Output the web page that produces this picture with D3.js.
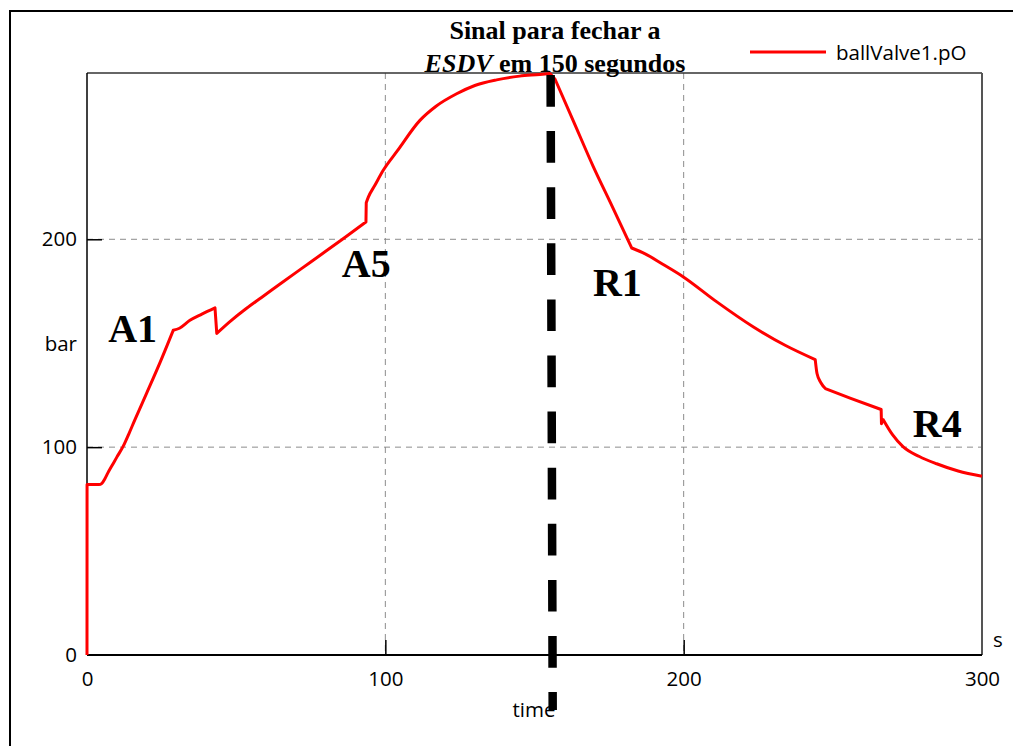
<!DOCTYPE html>
<html>
<head>
<meta charset="utf-8">
<script src="https://cdn.jsdelivr.net/npm/d3@7"></script>
<style>
  html, body { margin: 0; padding: 0; background: #fff; }
  svg { display: block; }
</style>
</head>
<body>
<svg id="chart" width="1013" height="746"></svg>
<script>
// ---- data ----
const seriesName = "ballValve1.pO";
const time = [0, 0.02, 4, 5, 6, 7, 8.5, 10, 12.2, 14, 16, 20, 24.5, 28.9, 31, 34.5, 38.5, 42.9, 43.5, 48, 53.5, 58.5, 64.7, 72, 80, 87, 93.5,
  93.6, 94.3, 96.5, 99.3, 104, 111.6, 117, 123.9, 130, 137.3, 145, 151.8, 155.2, 156.9, 163, 169.7, 176, 182.6,
  187.1, 193, 199.9, 211, 223.4, 234, 244.1, 244.7, 246, 247.5, 256, 266.2, 266.3, 266.9, 270, 273.6, 279, 284.8, 292, 300];
const pressure = [0, 82, 82, 82.6, 84.8, 87.6, 91.4, 95.2, 100.6, 106.3, 113, 126, 140.8, 156.2, 157.2, 161, 164, 167, 154.7, 160.5, 166.8, 172, 178.5, 186, 194.2, 201.5, 208.3,
  217.6, 220.3, 226, 233.2, 242.5, 257.2, 264, 270, 274, 276.7, 278.5, 279.3, 279.8, 277, 257, 235, 216, 195.8,
  193, 188, 181.9, 170, 157.8, 149, 142.1, 135.4, 131, 128.2, 123.5, 118.1, 111.3, 113.2, 106, 100.1, 95.5, 92, 88.5, 86];
// times where the simulated curve has a corner / discontinuity (events)
const cornerTimes = [0.02, 28.9, 42.9, 43.5, 93.5, 93.6, 155.2, 156.9, 182.6, 244.1, 247.5, 266.2, 266.3, 266.9];
const xTicks = [0, 100, 200, 300];
const yTicks = [0, 100, 200];
const xGrid = [100, 200];
const yGrid = [100, 200];
const signalTime = [155.4, 156.1]; // ESDV closing signal marker (top, bottom)
const annotations = [
  { label: "A1", t: 7.1, v: 150.5 },
  { label: "A5", t: 85.4, v: 182 },
  { label: "R1", t: 169.6, v: 172.5 },
  { label: "R4", t: 276.8, v: 105 }
];

// ---- layout ----
const svg = d3.select("#chart");
const x = d3.scaleLinear().domain([0, 300]).range([87, 982]);
const y = d3.scaleLinear().domain([0, 280]).range([655, 73]);
const sans = "'Open Sans', 'DejaVu Sans', sans-serif";
const serif = "'Liberation Serif', 'Times New Roman', serif";

// outer frame
svg.append("rect").attr("x", 10).attr("y", 11).attr("width", 1020).attr("height", 760)
  .attr("fill", "none").attr("stroke", "#000").attr("stroke-width", 2);

// grid
svg.append("g").selectAll("line").data(xGrid).join("line")
  .attr("x1", d => x(d)).attr("x2", d => x(d)).attr("y1", y(280)).attr("y2", y(0))
  .attr("stroke", "#8c8c8c").attr("stroke-width", 1).attr("stroke-dasharray", "6,5");
svg.append("g").selectAll("line").data(yGrid).join("line")
  .attr("x1", x(0)).attr("x2", x(300)).attr("y1", d => y(d)).attr("y2", d => y(d))
  .attr("stroke", "#8c8c8c").attr("stroke-width", 1).attr("stroke-dasharray", "6,5");

// plot frame
svg.append("line").attr("x1", x(0)).attr("x2", x(300)).attr("y1", y(280)).attr("y2", y(280))
  .attr("stroke", "#333").attr("stroke-width", 1.5);
svg.append("line").attr("x1", x(300)).attr("x2", x(300)).attr("y1", y(280)).attr("y2", y(0))
  .attr("stroke", "#555").attr("stroke-width", 2);
svg.append("line").attr("x1", x(0)).attr("x2", x(0)).attr("y1", y(280)).attr("y2", y(0))
  .attr("stroke", "#000").attr("stroke-width", 1.5);
svg.append("line").attr("x1", x(0)).attr("x2", x(300)).attr("y1", y(0)).attr("y2", y(0))
  .attr("stroke", "#000").attr("stroke-width", 2);

// axes
const yAxis = svg.append("g").attr("transform", `translate(${x(0)},0)`)
  .call(d3.axisLeft(y).tickValues(yTicks).tickSize(-15).tickPadding(10).tickFormat(d3.format("d")));
const xAxis = svg.append("g").attr("transform", `translate(0,${y(0)})`)
  .call(d3.axisBottom(x).tickValues(xTicks).tickSize(-15).tickPadding(16).tickFormat(d3.format("d")));
[xAxis, yAxis].forEach(g => {
  g.select(".domain").remove();
  g.selectAll(".tick line").attr("stroke", "#000").attr("stroke-width", 1.5);
  g.selectAll(".tick text").attr("font-family", sans).attr("font-size", 20.5).attr("fill", "#000");
});
yAxis.selectAll(".tick").filter(d => d === 0).select("line").remove();
xAxis.selectAll(".tick").filter(d => d === 0 || d === 300).select("line").remove();

// axis unit labels
svg.append("text").attr("x", 77).attr("y", 351).attr("text-anchor", "end")
  .attr("font-family", sans).attr("font-size", 20.5).text("bar");
svg.append("text").attr("x", 993).attr("y", 647)
  .attr("font-family", sans).attr("font-size", 20.5).text("s");
svg.append("text").attr("x", 534).attr("y", 717).attr("text-anchor", "middle")
  .attr("font-family", sans).attr("font-size", 20.5).text("time");

// series line: smooth between events, sharp corners at events
const data = time.map((t, i) => ({ t, v: pressure[i] }));
const segLine = d3.line().x(d => x(d.t)).y(d => y(d.v)).curve(d3.curveMonotoneX);
const segments = [];
let cur = [];
data.forEach(d => {
  cur.push(d);
  if (cornerTimes.includes(d.t)) { segments.push(cur); cur = [d]; }
});
if (cur.length > 1) segments.push(cur);
const pathD = segments.map((s, i) => {
  const p = segLine(s);
  return i === 0 ? p : "L" + p.slice(1);
}).join("");
svg.append("path").attr("d", pathD)
  .attr("fill", "none").attr("stroke", "#ff0000").attr("stroke-width", 3)
  .attr("stroke-linejoin", "round");

// signal marker (thick dashed)
svg.append("line")
  .attr("x1", x(signalTime[0])).attr("x2", x(signalTime[1]))
  .attr("y1", 75).attr("y2", 710)
  .attr("stroke", "#000").attr("stroke-width", 8.5).attr("stroke-dasharray", "31.7,24.4");

// title
const title = svg.append("text").attr("text-anchor", "middle").attr("font-family", serif)
  .attr("font-weight", "bold").attr("font-size", 26);
title.append("tspan").attr("x", 555).attr("y", 39).text("Sinal para fechar a");
const l2 = title.append("tspan").attr("x", 555).attr("y", 71.5);
l2.append("tspan").attr("font-style", "italic").text("ESDV");
l2.append("tspan").text(" em 150 segundos");

// legend
svg.append("line").attr("x1", 750).attr("x2", 826).attr("y1", 52).attr("y2", 52)
  .attr("stroke", "#ff0000").attr("stroke-width", 3);
svg.append("text").attr("x", 836).attr("y", 59.5)
  .attr("font-family", sans).attr("font-size", 20.5).text(seriesName);

// annotations
svg.append("g").selectAll("text").data(annotations).join("text")
  .attr("x", d => x(d.t)).attr("y", d => y(d.v))
  .attr("font-family", serif).attr("font-weight", "bold").attr("font-size", 40)
  .text(d => d.label);
</script>
</body>
</html>
